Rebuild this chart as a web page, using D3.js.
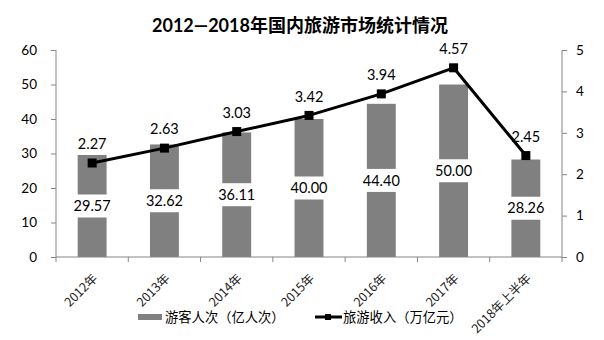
<!DOCTYPE html>
<html>
<head>
<meta charset="utf-8">
<script src="https://cdn.jsdelivr.net/npm/d3@7"></script>
<style>
  html, body { margin: 0; padding: 0; background: #fff; }
  svg { display: block; }
  text { font-family: Lato, "Noto Sans CJK SC", sans-serif; fill: #000; }
  .cjk { font-family: "Noto Sans CJK SC", sans-serif; }
</style>
</head>
<body>
<svg id="chart" width="604" height="340"></svg>
<script>
// Domestic tourism 2012 – first half of 2018
const categories = ["2012年", "2013年", "2014年", "2015年", "2016年", "2017年", "2018年上半年"];
const visitors = [29.57, 32.62, 36.11, 40.00, 44.40, 50.00, 28.26];   // 亿人次
const revenue  = [2.27, 2.63, 3.03, 3.42, 3.94, 4.57, 2.45];          // 万亿元
const leftTicks  = [0, 10, 20, 30, 40, 50, 60];
const rightTicks = [0, 1, 2, 3, 4, 5];
const seriesNames = ["游客人次（亿人次）", "旅游收入（万亿元）"];
const titleText = "2012—2018年国内旅游市场统计情况";

const svg = d3.select("#chart");
const plot = { left: 56, right: 562, top: 50, bottom: 257 };
const axisColor = "#868686";
const barColor = "#808080";

const x = d3.scaleBand().domain(categories).range([plot.left, plot.right]).padding(0);
const yL = d3.scaleLinear().domain([0, 60]).range([plot.bottom, plot.top]);
const yR = d3.scaleLinear().domain([0, 5]).range([plot.bottom, plot.top]);
const barW = x.bandwidth() * 0.4;
const cx = c => x(c) + x.bandwidth() / 2;

// Title
svg.append("text")
  .attr("x", 300).attr("y", 25)
  .attr("text-anchor", "middle").attr("dominant-baseline", "central")
  .style("font-size", "18px").style("font-weight", "bold")
  .text(titleText);

// Left axis
const gL = svg.append("g").attr("transform", `translate(${plot.left},0)`)
  .call(d3.axisLeft(yL).tickValues(leftTicks).tickFormat(d3.format("d")).tickSize(5).tickPadding(14));
// Right axis
const gR = svg.append("g").attr("transform", `translate(${plot.right},0)`)
  .call(d3.axisRight(yR).tickValues(rightTicks).tickFormat(d3.format("d")).tickSize(5).tickPadding(9));
[gL, gR].forEach(g => {
  g.select(".domain").attr("stroke", axisColor).attr("d",
    `M0,${plot.top}V${plot.bottom}`);
  g.selectAll(".tick line").attr("stroke", axisColor);
  g.selectAll(".tick text").style("font-size", "13.5px").attr("fill", "#000")
    .style("font-family", "Lato, sans-serif");
});

// Bars
svg.append("g").selectAll("rect")
  .data(categories)
  .join("rect")
  .attr("x", (c) => cx(c) - barW / 2)
  .attr("width", barW)
  .attr("y", (c, i) => yL(visitors[i]))
  .attr("height", (c, i) => yL(0) - yL(visitors[i]))
  .attr("fill", barColor);

// Category axis with boundary ticks
const gX = svg.append("g");
gX.append("line")
  .attr("x1", plot.left).attr("x2", plot.right)
  .attr("y1", plot.bottom).attr("y2", plot.bottom)
  .attr("stroke", axisColor);
const bounds = categories.map(c => x(c)).concat([plot.right]);
gX.selectAll("line.tk").data(bounds).join("line")
  .attr("class", "tk")
  .attr("x1", d => d).attr("x2", d => d)
  .attr("y1", plot.bottom).attr("y2", plot.bottom + 5)
  .attr("stroke", axisColor);
gX.selectAll("text").data(categories).join("text")
  .attr("class", "cjk")
  .attr("transform", c => `translate(${cx(c) + 3},${plot.bottom + 19}) rotate(-45)`)
  .attr("text-anchor", "end")
  .attr("dy", "0.35em")
  .style("font-size", "12.5px")
  .style("fill", "#222")
  .text(c => c);

// Bar value labels, centred on each bar over a white box
const barLabels = svg.append("g").selectAll("g")
  .data(categories)
  .join("g")
  .attr("transform", (c, i) => `translate(${cx(c)},${yL(visitors[i] / 2)})`);
barLabels.append("rect")
  .attr("x", -21).attr("y", -11.5).attr("width", 42).attr("height", 23)
  .attr("fill", "#fff");
barLabels.append("text")
  .attr("text-anchor", "middle").attr("dy", "0.36em")
  .style("font-size", "14.5px")
  .text((c, i) => visitors[i].toFixed(2));

// Revenue line with square markers
const line = d3.line()
  .x((d, i) => cx(categories[i]))
  .y(d => yR(d));
svg.append("path")
  .datum(revenue)
  .attr("d", line)
  .attr("fill", "none")
  .attr("stroke", "#000")
  .attr("stroke-width", 3)
  .attr("stroke-linejoin", "round");
svg.append("g").selectAll("rect")
  .data(revenue)
  .join("rect")
  .attr("x", (d, i) => cx(categories[i]) - 4.5)
  .attr("y", d => yR(d) - 4.5)
  .attr("width", 9).attr("height", 9)
  .attr("fill", "#000");
svg.append("g").selectAll("text")
  .data(revenue)
  .join("text")
  .attr("x", (d, i) => cx(categories[i]))
  .attr("y", d => yR(d) - 19)
  .attr("text-anchor", "middle").attr("dy", "0.36em")
  .style("font-size", "14.5px")
  .text(d => d.toFixed(2));

// Legend
const lg = svg.append("g");
lg.append("rect").attr("x", 138).attr("y", 314).attr("width", 24).attr("height", 6).attr("fill", barColor);
lg.append("text").attr("class", "cjk").attr("x", 165).attr("y", 317).attr("dy", "0.35em")
  .style("font-size", "13.3px").text(seriesNames[0]);
lg.append("line").attr("x1", 315).attr("x2", 342).attr("y1", 317).attr("y2", 317)
  .attr("stroke", "#000").attr("stroke-width", 3);
lg.append("rect").attr("x", 325).attr("y", 314).attr("width", 6).attr("height", 6).attr("fill", "#000");
lg.append("text").attr("class", "cjk").attr("x", 343).attr("y", 317).attr("dy", "0.35em")
  .style("font-size", "13.3px").text(seriesNames[1]);
</script>
</body>
</html>
